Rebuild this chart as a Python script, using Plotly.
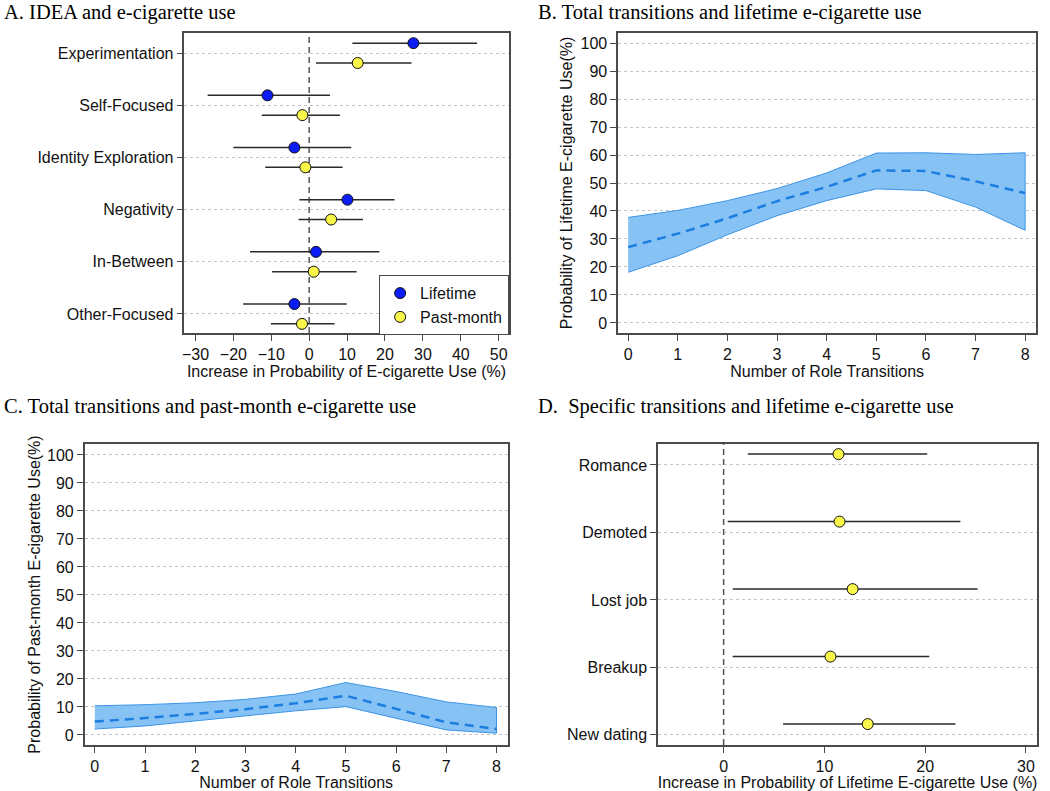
import plotly.graph_objects as go

# ---------------- Data ----------------
# Panel A
idea_cats = ["Experimentation", "Self-Focused", "Identity Exploration",
             "Negativity", "In-Between", "Other-Focused"]
life_est = [27.5, -11.0, -3.9, 10.1, 1.8, -3.9]
life_lo = [11.4, -26.8, -20.0, -2.6, -15.6, -17.4]
life_hi = [44.3, 5.5, 11.1, 22.5, 18.5, 9.9]
pm_est = [12.8, -1.8, -1.0, 5.8, 1.2, -1.9]
pm_lo = [1.8, -12.5, -11.6, -2.8, -9.8, -10.1]
pm_hi = [27.0, 8.1, 8.8, 14.2, 12.5, 6.7]
a_ticks = [-30, -20, -10, 0, 10, 20, 30, 40, 50]

# Panel B
transitions = [0, 1, 2, 3, 4, 5, 6, 7, 8]
b_mean = [27.1, 31.9, 37.4, 43.5, 48.6, 54.5, 54.3, 50.6, 46.4]
b_upper = [37.7, 40.2, 43.7, 48.0, 53.6, 60.7, 60.8, 60.2, 60.8]
b_lower = [18.1, 24.0, 31.5, 38.3, 43.7, 47.9, 47.3, 41.4, 33.1]

# Panel C
c_mean = [4.8, 6.0, 7.5, 9.2, 11.3, 14.0, 9.3, 4.5, 2.1]
c_upper = [10.4, 10.8, 11.5, 12.7, 14.6, 18.7, 15.5, 11.8, 9.8]
c_lower = [2.1, 3.2, 4.8, 6.8, 8.6, 10.1, 6.0, 1.8, 0.6]
prob_ticks = [0, 10, 20, 30, 40, 50, 60, 70, 80, 90, 100]

# Panel D
spec_cats = ["Romance", "Demoted", "Lost job", "Breakup", "New dating"]
spec_est = [11.4, 11.5, 12.8, 10.6, 14.3]
spec_lo = [2.4, 0.4, 0.9, 0.9, 5.9]
spec_hi = [20.2, 23.5, 25.2, 20.4, 23.0]
d_ticks = [0, 10, 20, 30]

# ---------------- Style ----------------
W, H = 1050, 791
SANS = "Liberation Sans, Arial, Helvetica, sans-serif"
SERIF = "Liberation Serif, Times New Roman, serif"
TXT = "#111111"
AXC = "#4a4a4a"
GRID = "#c4c4c4"
BLUE_PT = "#0b1cf5"
YEL_PT = "#fbf64a"
BAND = "#86c2f4"
BAND_EDGE = "#3d93e6"
MEAN_LINE = "#1b7ee0"
ERR = "#2a2a2a"
FS = 16


def px_x(p):
    return p / W


def px_y(p):
    return 1 - p / H


fig = go.Figure()

# ---- Panel A ----
n_a = len(idea_cats)
a_pos = [n_a - i for i in range(n_a)]
off_a = 0.19
fig.add_trace(go.Scatter(
    x=life_est, y=[p + off_a for p in a_pos], mode="markers", name="Lifetime",
    marker=dict(size=11, color=BLUE_PT, line=dict(color="#111", width=1)),
    error_x=dict(type="data", symmetric=False,
                 array=[h - e for h, e in zip(life_hi, life_est)],
                 arrayminus=[e - l for e, l in zip(life_est, life_lo)],
                 width=0, thickness=1.5, color=ERR),
    xaxis="x", yaxis="y", showlegend=True))
fig.add_trace(go.Scatter(
    x=pm_est, y=[p - off_a for p in a_pos], mode="markers", name="Past-month",
    marker=dict(size=11, color=YEL_PT, line=dict(color="#111", width=1)),
    error_x=dict(type="data", symmetric=False,
                 array=[h - e for h, e in zip(pm_hi, pm_est)],
                 arrayminus=[e - l for e, l in zip(pm_est, pm_lo)],
                 width=0, thickness=1.5, color=ERR),
    xaxis="x", yaxis="y", showlegend=True))


# ---- Panel B & C bands ----
def add_band(xa, ya, upper, lower, mean):
    fig.add_trace(go.Scatter(
        x=transitions + transitions[::-1], y=upper + lower[::-1],
        fill="toself", fillcolor=BAND, mode="lines",
        line=dict(color=BAND_EDGE, width=1), showlegend=False,
        xaxis=xa, yaxis=ya, hoverinfo="skip"))
    fig.add_trace(go.Scatter(
        x=transitions, y=mean, mode="lines",
        line=dict(color=MEAN_LINE, width=2.5, dash="9px,6px"),
        showlegend=False, xaxis=xa, yaxis=ya))


add_band("x2", "y2", b_upper, b_lower, b_mean)
add_band("x3", "y3", c_upper, c_lower, c_mean)

# ---- Panel D ----
n_d = len(spec_cats)
d_pos = [n_d - i for i in range(n_d)]
off_d = 0.16
fig.add_trace(go.Scatter(
    x=spec_est, y=[p + off_d for p in d_pos], mode="markers",
    marker=dict(size=11, color=YEL_PT, line=dict(color="#111", width=1)),
    error_x=dict(type="data", symmetric=False,
                 array=[h - e for h, e in zip(spec_hi, spec_est)],
                 arrayminus=[e - l for e, l in zip(spec_est, spec_lo)],
                 width=0, thickness=1.5, color=ERR),
    xaxis="x4", yaxis="y4", showlegend=False))

# zero reference lines
for xr, yr in (("x", "y domain"), ("x4", "y4 domain")):
    fig.add_shape(type="line", xref=xr, yref=yr, x0=0, x1=0, y0=0, y1=1,
                  line=dict(color="#555", width=1.5, dash="6px,4px"), layer="below")

axis_common = dict(showline=True, mirror=True, linecolor=AXC, linewidth=1.6,
                   ticks="outside", ticklen=6, tickcolor=AXC, tickwidth=1.2,
                   tickfont=dict(family=SANS, size=FS, color=TXT),
                   zeroline=False)
xtitle_font = dict(family=SANS, size=FS, color=TXT)

# domains (from pixel positions)
dA_x = [px_x(182), px_x(507)]
dB_x = [px_x(617), px_x(1036)]
dC_x = [px_x(82), px_x(506)]
dD_x = [px_x(657), px_x(1037)]
top_y = [px_y(333), px_y(33)]
bot_y = [px_y(745), px_y(444)]

fig.update_layout(
    width=W, height=H, margin=dict(l=0, r=0, t=0, b=0),
    paper_bgcolor="white", plot_bgcolor="white",
    font=dict(family=SANS, size=FS, color=TXT),
    xaxis=dict(domain=dA_x, anchor="y", range=[-32.9, 52.6], tickvals=a_ticks,
               showgrid=False,
               title=dict(text="Increase in Probability of E-cigarette Use (%)",
                          font=xtitle_font, standoff=0), **axis_common),
    yaxis=dict(domain=top_y, anchor="x", range=[0.635, 6.385], tickvals=a_pos,
               ticktext=idea_cats, showgrid=True, gridcolor=GRID, griddash="dot",
               gridwidth=1, **axis_common),
    xaxis2=dict(domain=dB_x, anchor="y2", range=[-0.2, 8.22], tickvals=transitions,
                showgrid=False,
                title=dict(text="Number of Role Transitions", font=xtitle_font, standoff=0),
                **axis_common),
    yaxis2=dict(domain=top_y, anchor="x2", range=[-3.6, 103.6], tickvals=prob_ticks,
                showgrid=True, gridcolor=GRID, griddash="dot", gridwidth=1,
                title=dict(text="Probability of Lifetime E-cigarette Use(%)",
                           font=xtitle_font, standoff=4), **axis_common),
    xaxis3=dict(domain=dC_x, anchor="y3", range=[-0.2, 8.22], tickvals=transitions,
                showgrid=False,
                title=dict(text="Number of Role Transitions", font=xtitle_font, standoff=0),
                **axis_common),
    yaxis3=dict(domain=bot_y, anchor="x3", range=[-3.6, 103.9], tickvals=prob_ticks,
                showgrid=True, gridcolor=GRID, griddash="dot", gridwidth=1,
                title=dict(text="Probability of Past-month E-cigarette Use(%)",
                           font=xtitle_font, standoff=2), **axis_common),
    xaxis4=dict(domain=dD_x, anchor="y4", range=[-6.5, 31.1], tickvals=d_ticks,
                showgrid=False,
                title=dict(text="Increase in Probability of Lifetime E-cigarette Use (%)",
                           font=xtitle_font, standoff=0), **axis_common),
    yaxis4=dict(domain=bot_y, anchor="x4", range=[0.85, 5.31], tickvals=d_pos,
                ticktext=spec_cats, showgrid=True, gridcolor=GRID, griddash="dot",
                gridwidth=1, **axis_common),
    legend=dict(x=px_x(377), y=px_y(275), xanchor="left", yanchor="top",
                bgcolor="white", bordercolor=AXC, borderwidth=1.2,
                font=dict(family=SANS, size=FS, color=TXT),
                itemwidth=30, tracegroupgap=0),
)

titles = [
    ("A. IDEA and e-cigarette use", 0, 0),
    ("B. Total transitions and lifetime e-cigarette use", 536, 0),
    ("C. Total transitions and past-month e-cigarette use", 0, 394),
    ("D.\u00a0 Specific transitions and lifetime e-cigarette use", 536, 394),
]
for txt, xp, yp in titles:
    fig.add_annotation(text=txt, xref="paper", yref="paper", x=px_x(xp), y=px_y(yp),
                       xanchor="left", yanchor="top", showarrow=False, borderpad=0,
                       font=dict(family=SERIF, size=20.5, color="#000"))

fig.write_html("out.html", config={"displayModeBar": False},
               post_script="document.body.style.margin='0';")
